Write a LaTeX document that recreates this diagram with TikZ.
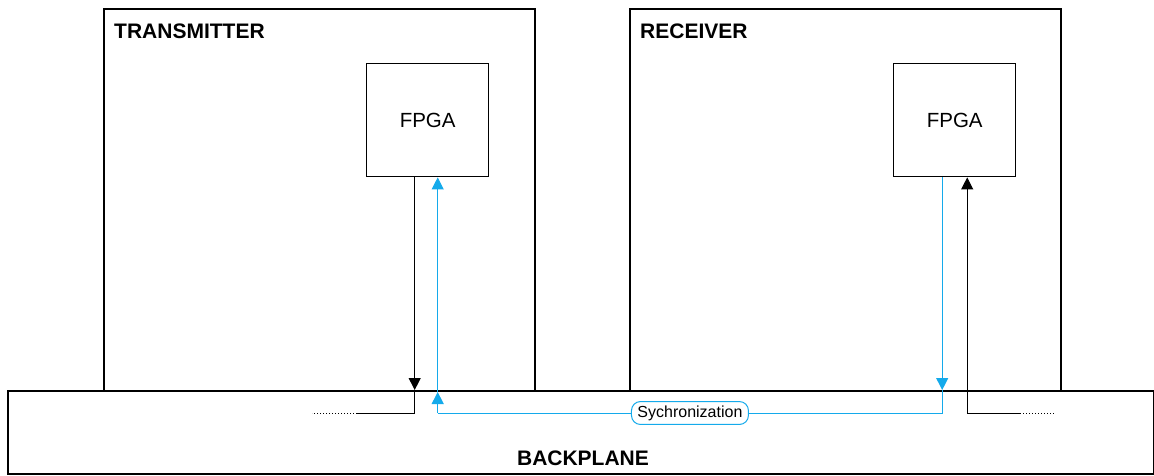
\documentclass[tikz,border=0pt]{standalone}
\usepackage{fontspec}
\setmainfont{Liberation Sans}
\usetikzlibrary{arrows.meta,calc}
\definecolor{synccol}{RGB}{20,170,235}
\begin{document}
\begin{tikzpicture}[x=1pt,y=-1pt,
  unit/.style={draw=black,line width=1.6pt,anchor=north west,inner sep=0pt},
  chip/.style={draw=black,line width=1.4pt,minimum width=122pt,minimum height=113pt,anchor=north west,inner sep=0pt,font=\fontsize{20.5}{24}\selectfont},
  title/.style={anchor=base west,font=\bfseries\fontsize{21}{25}\selectfont,inner sep=0pt},
  sig/.style={line width=1pt},
  tip/.style={-{Triangle[length=12pt,width=12pt]}},
  sync/.style={sig,draw=synccol},
  tag/.style={draw=synccol,fill=white,rounded corners=9pt,line width=1pt,inner xsep=6pt,inner ysep=4pt,font=\fontsize{16}{19}\selectfont},
  textcol/.style={text=black}]
\useasboundingbox (0,0) rectangle (1154,475);
% boards and backplane
\node[unit,minimum width=431pt,minimum height=382pt] (tx) at (103,8) {};
\node[unit,minimum width=431pt,minimum height=382pt] (rx) at (629,8) {};
\node[unit,fill=white,minimum width=1146pt,minimum height=83pt] (bp) at (7,390) {};
\node[title] (txlbl) at (114,38) {TRANSMITTER};
\node[title] (rxlbl) at (640,38) {RECEIVER};
\node[title,anchor=base] (bplbl) at (583,465) {BACKPLANE};
% FPGAs
\node[chip] (txf) at (366,63) {FPGA};
\node[chip] (rxf) at (893,63) {FPGA};
% connection points
\coordinate (txo) at ($(txf.south)+(-13,0)$);
\coordinate (txi) at ($(txf.south)+(10,0)$);
\coordinate (rxo) at ($(rxf.south)+(-12.5,0)$);
\coordinate (rxi) at ($(rxf.south)+(12.5,0)$);
\coordinate (txoe) at (txo |- bp.north);
\coordinate (txob) at ($(txo |- bp.north)+(0,23)$);
\coordinate (txoc) at (357,413);
\coordinate (txod) at (312,413);
\coordinate (rxoe) at (rxo |- bp.north);
\coordinate (rxob) at ($(rxo |- bp.north)+(0,23)$);
\coordinate (txib) at ($(txi |- bp.north)+(0,23)$);
\coordinate (txie) at ($(txi |- bp.north)+(0,2)$);
\coordinate (rxib) at ($(rxi |- bp.north)+(0,23)$);
\coordinate (rxic) at (1020,413);
\coordinate (rxid) at (1056,413);
% transmitter output into the backplane
\draw[sig,tip] (txo) -- (txoe);
\draw[sig] (txoe) -- (txob) -- (txoc);
\draw[sig,dotted] (txoc) -- (txod);
% synchronization loop
\draw[sync,tip,fill=synccol] (rxo) -- (rxoe);
\draw[sync] (rxoe) -- (rxob) -- node[tag,textcol] (syn) {Sychronization} (txib);
\draw[sync,tip,fill=synccol] (txib) -- (txie);
\draw[sync,tip,fill=synccol] (txie) -- (txi);
% receiver input from the backplane
\draw[sig,tip] (rxib) -- (rxi);
\draw[sig] (rxib) -- (rxic);
\draw[sig,dotted] (rxic) -- (rxid);
\end{tikzpicture}
\end{document}
